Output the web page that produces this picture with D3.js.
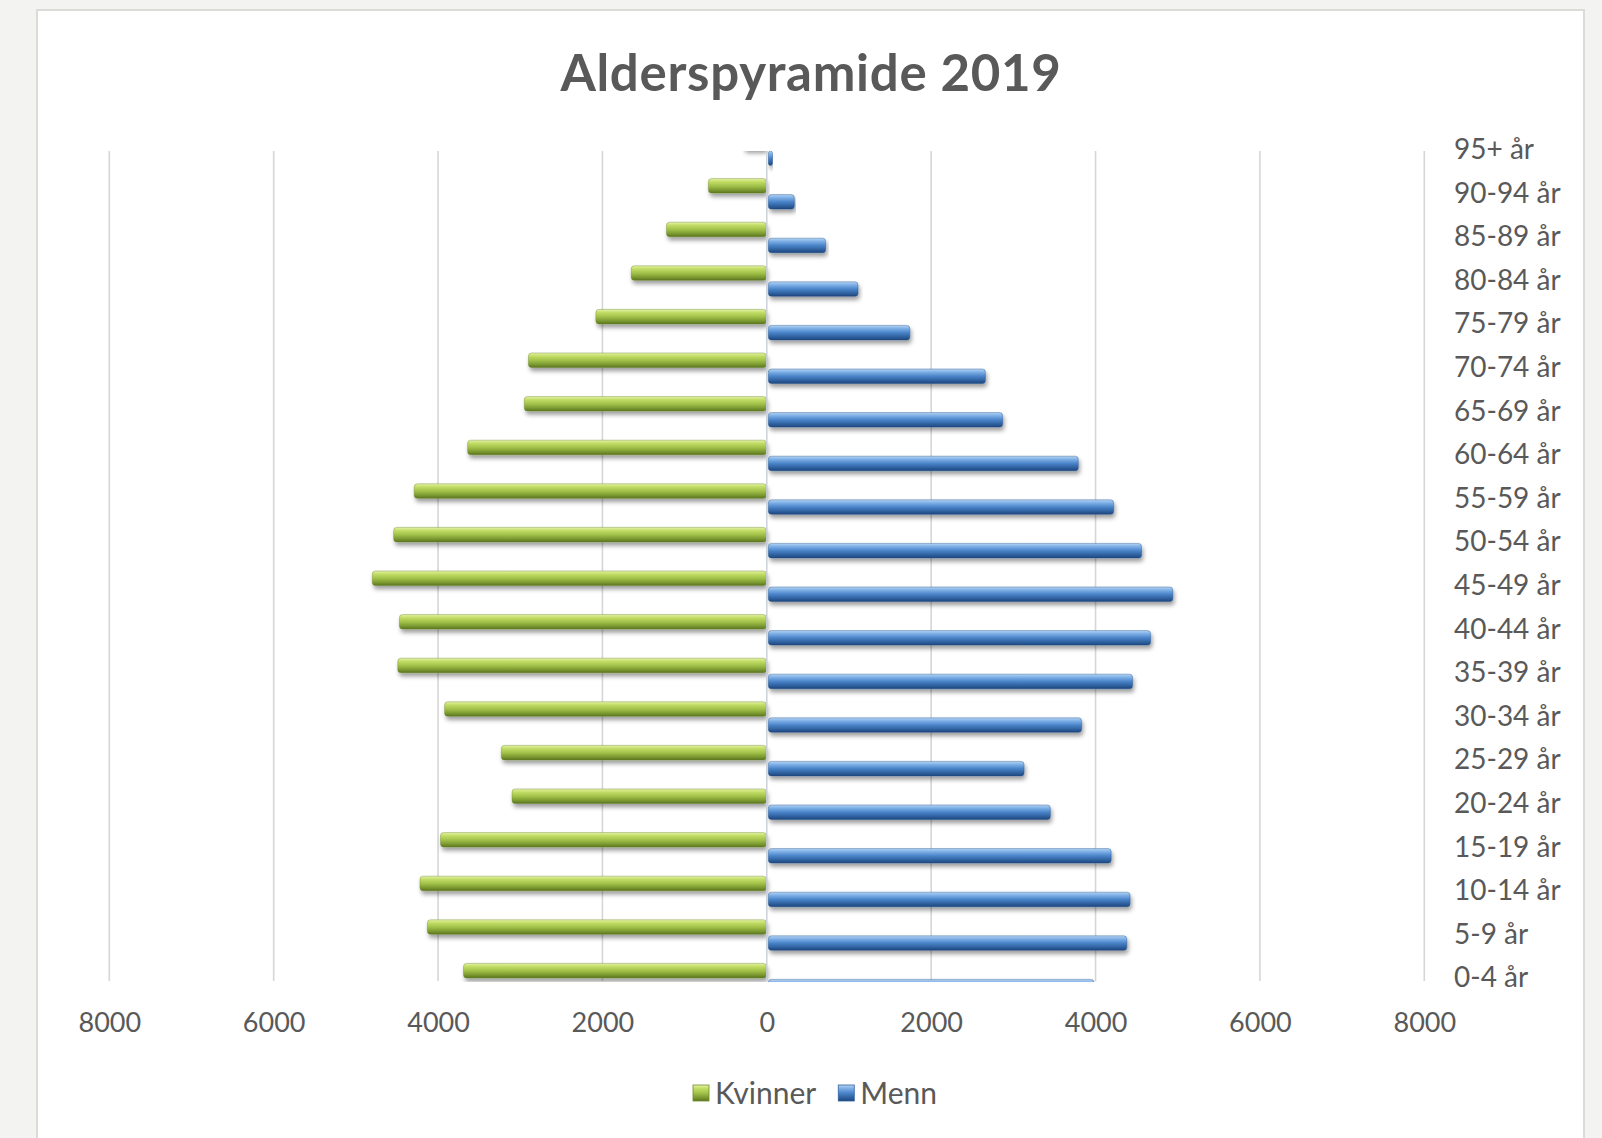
<!DOCTYPE html>
<html lang="no">
<head>
<meta charset="utf-8">
<title>Alderspyramide 2019</title>
<script src="https://cdn.jsdelivr.net/npm/d3@7"></script>
<style>
  html, body { margin: 0; padding: 0; background: #f3f4f2; }
  svg { display: block; }
  text { font-family: Lato, "Open Sans", sans-serif; fill: #595959; }
</style>
</head>
<body>
<svg id="chart" width="1602" height="1138"></svg>
<script>
// Age groups, youngest first
const ageGroups = ["0-4 år", "5-9 år", "10-14 år", "15-19 år", "20-24 år", "25-29 år",
  "30-34 år", "35-39 år", "40-44 år", "45-49 år", "50-54 år", "55-59 år", "60-64 år",
  "65-69 år", "70-74 år", "75-79 år", "80-84 år", "85-89 år", "90-94 år", "95+ år"];

// Number of women per age group
const kvinner = [3690, 4130, 4220, 3970, 3100, 3230, 3920, 4490, 4470, 4800,
  4540, 4290, 3640, 2950, 2900, 2080, 1650, 1220, 710, 280];

// Number of men per age group
const menn = [3980, 4380, 4420, 4190, 3450, 3130, 3830, 4450, 4670, 4940,
  4560, 4220, 3790, 2870, 2660, 1740, 1110, 716, 335, 70];

const seriesNames = ["Kvinner", "Menn"];
const xTicks = [-8000, -6000, -4000, -2000, 0, 2000, 4000, 6000, 8000];
const title = "Alderspyramide 2019";

const svg = d3.select("#chart");
const defs = svg.append("defs");

// Cylinder-like gradients for the two series
function gradient(id, stops) {
  const g = defs.append("linearGradient").attr("id", id)
    .attr("x1", 0).attr("y1", 0).attr("x2", 0).attr("y2", 1);
  stops.forEach(([o, c]) => g.append("stop").attr("offset", o).attr("stop-color", c));
}
gradient("gKvinner", [[0, "#e6f3ab"], [0.2, "#c4de68"], [0.5, "#a2c24a"], [0.8, "#7a9830"], [1, "#5a7420"]]);
gradient("gMenn", [[0, "#b6d5f5"], [0.2, "#80b1e7"], [0.5, "#4a84c9"], [0.8, "#2e5f9d"], [1, "#1d467d"]]);

const shadow = defs.append("filter").attr("id", "barShadow")
  .attr("x", "-5%").attr("y", "-60%").attr("width", "110%").attr("height", "230%");
shadow.append("feDropShadow").attr("dx", 1.5).attr("dy", 3.5)
  .attr("stdDeviation", 2).attr("flood-color", "#000").attr("flood-opacity", 0.38);

// Chart card
svg.append("rect").attr("x", 37).attr("y", 10).attr("width", 1547).attr("height", 1140)
  .attr("fill", "#ffffff").attr("stroke", "#dadcda").attr("stroke-width", 2);

// Title
svg.append("text").attr("x", 811).attr("y", 91).attr("text-anchor", "middle")
  .style("font-size", "51px").style("font-weight", 700).style("letter-spacing", "0.7px")
  .text(title);

// Scales
const x = d3.scaleLinear().domain([-8000, 8000]).range([109.3, 1424.3]);
const order = ageGroups.slice().reverse();           // oldest at the top
const y = d3.scalePoint().domain(order).range([150, 978.4]);
const plotTop = 151, plotBottom = 981;

// Vertical gridlines
const grid = svg.append("g");
grid.selectAll("line").data(xTicks.filter(d => d !== 0)).join("line")
  .attr("x1", d => x(d)).attr("x2", d => x(d))
  .attr("y1", plotTop).attr("y2", plotBottom)
  .attr("stroke", "#d6d6d6").attr("stroke-width", 1.6);

// Bars, clipped to the plot area
defs.append("clipPath").attr("id", "plotClip").append("rect")
  .attr("x", 0).attr("y", plotTop).attr("width", 1602).attr("height", plotBottom - plotTop + 1);

const rows = ageGroups.map((g, i) => ({ group: g, kvinner: kvinner[i], menn: menn[i] }));
const bars = svg.append("g").attr("clip-path", "url(#plotClip)");
const barH = 14.5;

bars.selectAll("rect.kvinner").data(rows).join("rect").attr("class", "kvinner")
  .attr("x", d => x(-d.kvinner)).attr("width", d => x(0) - 0.5 - x(-d.kvinner))
  .attr("y", d => y(d.group) - 15).attr("height", barH)
  .attr("rx", 3).attr("fill", "url(#gKvinner)")
  .attr("stroke", "#6a8628").attr("stroke-opacity", 0.5).attr("stroke-width", 0.8)
  .attr("filter", "url(#barShadow)");

bars.selectAll("rect.menn").data(rows).join("rect").attr("class", "menn")
  .attr("x", x(0) + 1.5).attr("width", d => x(d.menn) - x(0) - 1.5)
  .attr("y", d => y(d.group) + 1).attr("height", barH)
  .attr("rx", 3).attr("fill", "url(#gMenn)")
  .attr("stroke", "#24528c").attr("stroke-opacity", 0.5).attr("stroke-width", 0.8)
  .attr("filter", "url(#barShadow)");

// Zero line
svg.append("line").attr("x1", x(0)).attr("x2", x(0)).attr("y1", plotTop).attr("y2", plotBottom)
  .attr("stroke", "#c9ced6").attr("stroke-width", 1.4);

// Value axis labels
const xAxis = d3.axisBottom(x).tickValues(xTicks).tickSize(0).tickPadding(0)
  .tickFormat(d => String(Math.abs(d)));
const ax = svg.append("g").attr("transform", "translate(0,1012)").call(xAxis);
ax.select(".domain").remove();
ax.selectAll("text").attr("dy", 0).attr("y", 20)
  .style("font-size", "27px").style("font-family", "Lato, sans-serif").attr("fill", "#595959");

// Age group labels on the right
const yAxis = d3.axisRight(y).tickSize(0).tickPadding(0);
const ay = svg.append("g").attr("transform", "translate(1454,0)").call(yAxis);
ay.select(".domain").remove();
ay.selectAll("text").attr("x", 0).attr("dy", "0.3em")
  .style("font-size", "28px").style("font-family", "Lato, sans-serif").attr("fill", "#595959");

// Legend
const legend = svg.append("g").attr("transform", "translate(693,1093)");
const fills = ["url(#gKvinner)", "url(#gMenn)"];
let lx = 0;
seriesNames.forEach((name, i) => {
  const item = legend.append("g").attr("transform", `translate(${lx},0)`);
  item.append("rect").attr("x", 0).attr("y", -8).attr("width", 16).attr("height", 16)
    .attr("fill", fills[i]).attr("stroke", i ? "#2f619f" : "#6f8c2a").attr("stroke-width", 0.8);
  const t = item.append("text").attr("x", 22).attr("y", 0).attr("dy", "0.35em")
    .style("font-size", "30px").text(name);
  lx += 22 + t.node().getComputedTextLength() + 22;
});
</script>
</body>
</html>
